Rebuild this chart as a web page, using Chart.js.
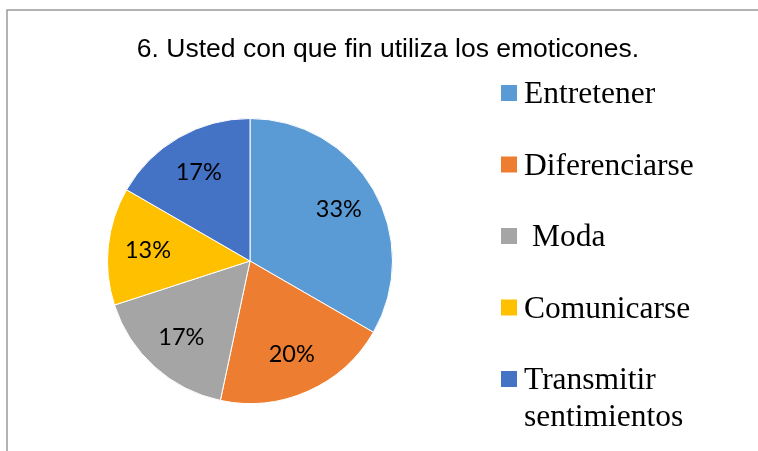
<!DOCTYPE html>
<html>
<head>
<meta charset="utf-8">
<script src="https://cdn.jsdelivr.net/npm/chart.js@4"></script>
<style>
  html, body { margin: 0; padding: 0; background: #fff; }
  #wrap { width: 758px; height: 451px; position: relative; }
</style>
</head>
<body>
<div id="wrap"><canvas id="emojiChart" width="758" height="451"></canvas></div>
<script>
// Survey answers (respondent counts)
const title = '6. Usted con que fin utiliza los emoticones.';
const categories = ['Entretener', 'Diferenciarse', ' Moda', 'Comunicarse', ['Transmitir', 'sentimientos']];
const counts = [10, 6, 5, 4, 5];
const colors = ['#5B9BD5', '#ED7D31', '#A5A5A5', '#FFC000', '#4472C4'];

// draws frame, title, percent labels and the legend on the right
const decorations = {
    id: 'decorations',
    afterDraw(chart) {
        const c = chart.ctx;
        c.save();

        // frame (top + left edge only)
        c.strokeStyle = '#9a9a9a';
        c.lineWidth = 1.5;
        c.beginPath();
        c.moveTo(7, 451);
        c.lineTo(7, 10);
        c.lineTo(758, 10);
        c.stroke();

        // title
        c.fillStyle = '#000';
        c.font = '26.5px "Liberation Sans", Arial, sans-serif';
        c.textAlign = 'center';
        c.textBaseline = 'alphabetic';
        c.fillText(title, 388, 57);

        // percentage labels
        const meta = chart.getDatasetMeta(0);
        const total = counts.reduce((a, b) => a + b, 0);
        c.font = '23.5px Lato, "Open Sans", sans-serif';
        c.textBaseline = 'middle';
        meta.data.forEach((arc, i) => {
            const p = arc.getProps(['x', 'y', 'startAngle', 'endAngle', 'outerRadius'], true);
            const mid = (p.startAngle + p.endAngle) / 2;
            const r = p.outerRadius * 0.72;
            const pct = Math.round(counts[i] / total * 100) + '%';
            c.fillText(pct, p.x + Math.cos(mid) * r, p.y + Math.sin(mid) * r);
        });

        // legend
        c.font = '31.5px "Liberation Serif", "Times New Roman", serif';
        c.textAlign = 'left';
        c.textBaseline = 'alphabetic';
        categories.forEach((label, i) => {
            const base = 103 + i * 71.5;
            c.fillStyle = colors[i];
            c.fillRect(501, base - 18, 16, 16);
            c.fillStyle = '#000';
            const lines = Array.isArray(label) ? label : [label];
            lines.forEach((line, j) => c.fillText(line, 524, base + j * 37));
        });

        c.restore();
    }
};

const config = {
    type: 'pie',
    data: {
        labels: categories,
        datasets: [{
            data: counts,
            backgroundColor: colors,
            borderColor: '#ffffff',
            borderWidth: 1
        }]
    },
    options: {
        responsive: false,
        animation: false,
        layout: {
            padding: { top: 118, bottom: 47, left: 107, right: 365 }
        },
        plugins: {
            legend: { display: false },
            title: { display: false },
            tooltip: { enabled: false }
        }
    },
    plugins: [decorations]
};

new Chart(document.getElementById('emojiChart').getContext('2d'), config);
</script>
</body>
</html>
